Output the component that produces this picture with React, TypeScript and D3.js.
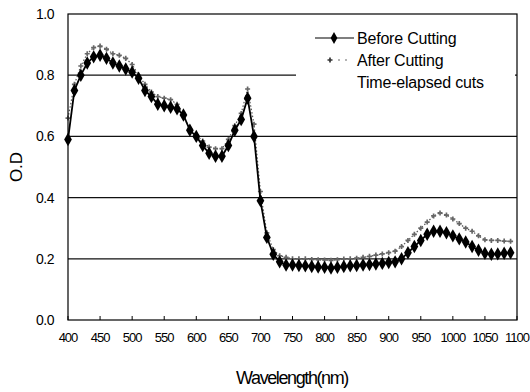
import { useEffect, useRef } from "react";
import * as d3 from "d3";

const wavelengths = [
  400, 410, 420, 430, 440, 450, 460, 470, 480, 490, 500, 510, 520, 530, 540,
  550, 560, 570, 580, 590, 600, 610, 620, 630, 640, 650, 660, 670, 680, 690,
  700, 710, 720, 730, 740, 750, 760, 770, 780, 790, 800, 810, 820, 830, 840,
  850, 860, 870, 880, 890, 900, 910, 920, 930, 940, 950, 960, 970, 980, 990,
  1000, 1010, 1020, 1030, 1040, 1050, 1060, 1070, 1080, 1090,
];

const beforeCutting = [
  0.59, 0.75, 0.8, 0.84, 0.86, 0.865, 0.855, 0.84, 0.83, 0.82, 0.81, 0.79,
  0.75, 0.73, 0.705, 0.7, 0.695, 0.69, 0.67, 0.62, 0.6, 0.57, 0.545, 0.535,
  0.535, 0.57, 0.62, 0.655, 0.725, 0.6, 0.39, 0.27, 0.215, 0.19, 0.18, 0.18,
  0.178, 0.177, 0.175, 0.173, 0.172, 0.17, 0.172, 0.175, 0.177, 0.178, 0.18,
  0.181, 0.183, 0.185, 0.188, 0.19, 0.2, 0.22, 0.24, 0.26, 0.28, 0.29, 0.29,
  0.285, 0.275, 0.265, 0.255, 0.24, 0.228, 0.218, 0.215, 0.216, 0.218, 0.22,
];

const afterCutting = [
  0.66, 0.77, 0.83, 0.87, 0.89, 0.895, 0.885, 0.87, 0.865, 0.855, 0.835, 0.8,
  0.77, 0.745, 0.73, 0.725, 0.72, 0.705, 0.665, 0.625, 0.605, 0.585, 0.565,
  0.56, 0.56, 0.59, 0.635, 0.675, 0.755, 0.64, 0.42, 0.285, 0.23, 0.21, 0.205,
  0.2, 0.2, 0.2, 0.198, 0.197, 0.196, 0.195, 0.197, 0.199, 0.2, 0.202, 0.205,
  0.208, 0.212, 0.216, 0.22, 0.225, 0.24, 0.26, 0.28, 0.3, 0.32, 0.34, 0.35,
  0.343, 0.33, 0.315, 0.3, 0.29, 0.275, 0.262, 0.26, 0.26, 0.258, 0.257,
];

const xTicks = [400, 450, 500, 550, 600, 650, 700, 750, 800, 850, 900, 950, 1000, 1050, 1100];
const yTicks = [0, 0.2, 0.4, 0.6, 0.8, 1.0];
const legendLabels = ["Before Cutting", "After Cutting", "Time-elapsed cuts"];

export default function App() {
  const svgRef = useRef<SVGSVGElement>(null);

  useEffect(() => {
    document.body.style.margin = "0";
    if (!svgRef.current) return;

    const svg = d3.select(svgRef.current);
    svg.selectAll("*").remove();

    const left = 68;
    const right = 517;
    const top = 14;
    const bottom = 320;
    const font = "'Liberation Sans', Arial, sans-serif";

    const x = d3.scaleLinear().domain([400, 1100]).range([left, right]);
    const y = d3.scaleLinear().domain([0, 1]).range([bottom, top]);

    svg.append("rect").attr("width", 530).attr("height", 392).attr("fill", "#fff");

    // Gridlines
    svg
      .append("g")
      .selectAll("line")
      .data(yTicks.filter((t) => t > 0 && t < 1))
      .enter()
      .append("line")
      .attr("x1", left)
      .attr("x2", right)
      .attr("y1", (d) => y(d))
      .attr("y2", (d) => y(d))
      .attr("stroke", "#111")
      .attr("stroke-width", 1.2);

    const before = wavelengths.map((w, i) => ({ w, v: beforeCutting[i] }));
    const after = wavelengths.map((w, i) => ({ w, v: afterCutting[i] }));

    const line = d3
      .line<{ w: number; v: number }>()
      .x((d) => x(d.w))
      .y((d) => y(d.v));

    // After cutting: dotted line with small stars
    svg
      .append("path")
      .datum(after)
      .attr("fill", "none")
      .attr("stroke", "#555")
      .attr("stroke-width", 1.2)
      .attr("stroke-dasharray", "1.5,2")
      .attr("d", line);

    const star = d3.symbol().type(d3.symbolCross).size(14);
    svg
      .append("g")
      .selectAll("path")
      .data(after)
      .enter()
      .append("path")
      .attr("transform", (d) => `translate(${x(d.w)},${y(d.v)})`)
      .attr("d", star)
      .attr("fill", "#666");

    // Before cutting: solid line with diamonds
    svg
      .append("path")
      .datum(before)
      .attr("fill", "none")
      .attr("stroke", "#000")
      .attr("stroke-width", 1.8)
      .attr("d", line);

    const diamond = d3.symbol().type(d3.symbolDiamond).size(52);
    svg
      .append("g")
      .selectAll("path")
      .data(before)
      .enter()
      .append("path")
      .attr("transform", (d) => `translate(${x(d.w)},${y(d.v)})`)
      .attr("d", diamond)
      .attr("fill", "#000");

    // Legend (white box hides the gridline behind it)
    svg
      .append("rect")
      .attr("x", 296)
      .attr("y", 22)
      .attr("width", 219)
      .attr("height", 78)
      .attr("fill", "#fff");

    const lg = svg.append("g").attr("font-family", font).attr("font-size", 16).attr("letter-spacing", -0.2).attr("fill", "#000");
    legendLabels.forEach((label, i) => {
      const ly = 38 + i * 22;
      lg.append("text").attr("x", 357).attr("y", ly + 6).text(label);
      if (i === 0) {
        lg.append("line")
          .attr("x1", 315).attr("x2", 354).attr("y1", ly).attr("y2", ly)
          .attr("stroke", "#000").attr("stroke-width", 1.2);
        lg.append("path")
          .attr("transform", `translate(334,${ly})`)
          .attr("d", d3.symbol().type(d3.symbolDiamond).size(40));
      } else if (i === 1) {
        lg.append("path")
          .attr("transform", `translate(330,${ly})`)
          .attr("d", star)
          .attr("fill", "#333");
        lg.append("circle").attr("cx", 339).attr("cy", ly).attr("r", 0.8).attr("fill", "#555");
        lg.append("circle").attr("cx", 346).attr("cy", ly).attr("r", 0.8).attr("fill", "#555");
      }
    });

    // Frame
    svg
      .append("rect")
      .attr("x", left)
      .attr("y", top)
      .attr("width", right - left)
      .attr("height", bottom - top)
      .attr("fill", "none")
      .attr("stroke", "#000")
      .attr("stroke-width", 1.2);

    // Bottom ticks (inward)
    svg
      .append("g")
      .selectAll("line")
      .data(xTicks)
      .enter()
      .append("line")
      .attr("x1", (d) => x(d))
      .attr("x2", (d) => x(d))
      .attr("y1", bottom)
      .attr("y2", bottom - 4)
      .attr("stroke", "#000");

    // Tick labels
    svg
      .append("g")
      .attr("font-family", font)
      .attr("font-size", 13)
      .attr("letter-spacing", -1)
      .attr("text-anchor", "middle")
      .selectAll("text")
      .data(xTicks)
      .enter()
      .append("text")
      .attr("x", (d) => x(d))
      .attr("y", 342)
      .text((d) => d);

    svg
      .append("g")
      .attr("font-family", font)
      .attr("font-size", 14)
      .attr("letter-spacing", -0.5)
      .attr("text-anchor", "end")
      .selectAll("text")
      .data(yTicks)
      .enter()
      .append("text")
      .attr("x", 54)
      .attr("y", (d) => y(d) + 5)
      .text((d) => d.toFixed(1));

    // Axis titles
    svg
      .append("text")
      .attr("transform", `translate(22,${(top + bottom) / 2}) rotate(-90)`)
      .attr("text-anchor", "middle")
      .attr("font-family", font)
      .attr("font-size", 17)
      .text("O.D");

    svg
      .append("text")
      .attr("x", 292)
      .attr("y", 384)
      .attr("text-anchor", "middle")
      .attr("font-family", font)
      .attr("font-size", 18)
      .attr("letter-spacing", -1.4)
      .text("Wavelength(nm)");
  }, []);

  return <svg ref={svgRef} width={530} height={392} style={{ display: "block" }} />;
}
